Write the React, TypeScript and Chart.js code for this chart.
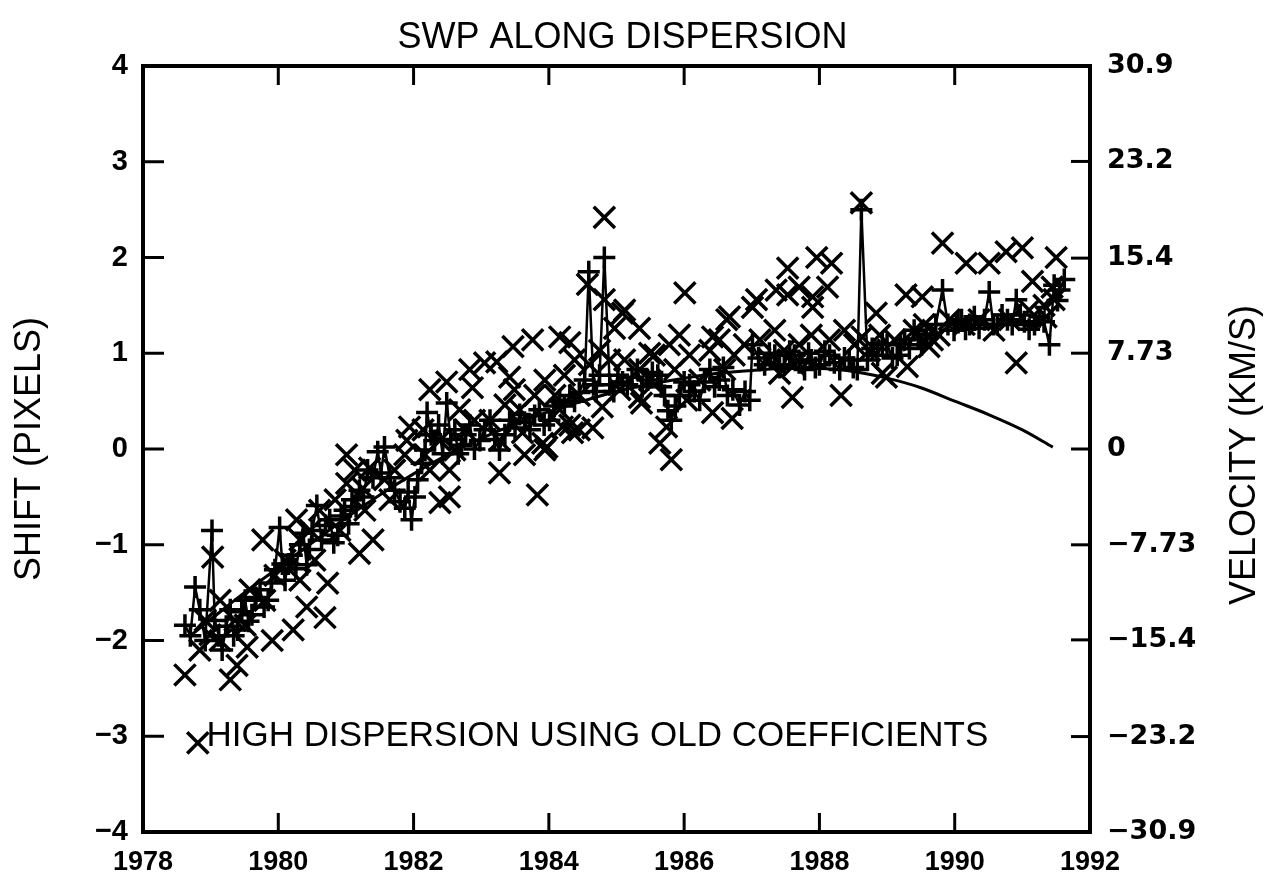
import React, { useEffect, useRef } from "react";
import { Chart, registerables } from "chart.js";

Chart.register(...registerables);

// ---- tick labels ----
const xTickYears = [1978, 1980, 1982, 1984, 1986, 1988, 1990, 1992];
const velocityTicks = [-30.9, -23.2, -15.4, -7.73, 0, 7.73, 15.4, 23.2, 30.9];
const velocityLabels = ["\u221230.9", "\u221223.2", "\u221215.4", "\u22127.73", "0", "7.73", "15.4", "23.2", "30.9"];

const chartTitle = "SWP ALONG DISPERSION";
const leftTitle = "SHIFT (PIXELS)";
const rightTitle = "VELOCITY (KM/S)";
const noteText = "HIGH DISPERSION USING OLD COEFFICIENTS";

// ---- "+" series (connected, chronological) ----
const plusYears = [
  1978.62, 1978.70, 1978.77, 1978.84, 1978.92, 1979.02, 1979.06, 1979.12, 1979.17, 1979.23,
  1979.29, 1979.34, 1979.40, 1979.46, 1979.51, 1979.56, 1979.61, 1979.67, 1979.73, 1979.79,
  1979.85, 1979.90, 1979.95, 1980.02, 1980.06, 1980.10, 1980.15, 1980.20, 1980.26, 1980.32,
  1980.37, 1980.42, 1980.46, 1980.50, 1980.57, 1980.64, 1980.70, 1980.76, 1980.82, 1980.88,
  1980.93, 1980.98, 1981.04, 1981.09, 1981.15, 1981.20, 1981.26, 1981.32, 1981.40, 1981.47,
  1981.52, 1981.57, 1981.65, 1981.72, 1981.80, 1981.87, 1981.92, 1981.97, 1982.02, 1982.06,
  1982.12, 1982.17, 1982.20, 1982.26, 1982.31, 1982.37, 1982.43, 1982.49, 1982.55, 1982.61,
  1982.66, 1982.71, 1982.77, 1982.83, 1982.90, 1982.98, 1983.05, 1983.13, 1983.20, 1983.27,
  1983.35, 1983.42, 1983.50, 1983.57, 1983.64, 1983.72, 1983.79, 1983.86, 1983.93, 1984.01,
  1984.08, 1984.16, 1984.23, 1984.31, 1984.38, 1984.45, 1984.53, 1984.59, 1984.66, 1984.70,
  1984.75, 1984.82, 1984.90, 1984.96, 1985.02, 1985.09, 1985.16, 1985.23, 1985.31, 1985.38,
  1985.46, 1985.53, 1985.61, 1985.66, 1985.71, 1985.76, 1985.81, 1985.87, 1985.93, 1986.00,
  1986.08, 1986.15, 1986.23, 1986.30, 1986.38, 1986.45, 1986.52, 1986.58, 1986.64, 1986.72,
  1986.82, 1986.90, 1986.97, 1987.01, 1987.10, 1987.19, 1987.26, 1987.34, 1987.41, 1987.48,
  1987.56, 1987.63, 1987.70, 1987.78, 1987.84, 1987.88, 1987.94, 1988.00, 1988.08, 1988.15,
  1988.22, 1988.30, 1988.37, 1988.44, 1988.50, 1988.56, 1988.62, 1988.71, 1988.78, 1988.86,
  1988.93, 1989.00, 1989.08, 1989.15, 1989.20, 1989.26, 1989.33, 1989.40, 1989.46, 1989.51,
  1989.58, 1989.65, 1989.72, 1989.82, 1989.90, 1989.99, 1990.05, 1990.10, 1990.16, 1990.22,
  1990.29, 1990.36, 1990.44, 1990.51, 1990.57, 1990.63, 1990.70, 1990.78, 1990.85, 1990.91,
  1990.97, 1991.03, 1991.10, 1991.18, 1991.25, 1991.32, 1991.40, 1991.47, 1991.52, 1991.55,
  1991.62,
];
const plusShift = [
  -1.84, -1.95, -1.44, -1.68, -2.00, -0.85, -1.79, -1.95, -2.10, -1.85,
  -1.68, -1.95, -1.89, -1.70, -1.58, -1.80, -1.73, -1.55, -1.47, -1.65,
  -1.58, -1.40, -1.26, -0.82, -1.20, -1.37, -1.20, -1.11, -1.25, -1.00,
  -0.88, -1.21, -1.05, -0.85, -0.59, -0.95, -0.80, -0.74, -0.98, -0.90,
  -0.70, -0.64, -0.78, -0.53, -0.60, -0.43, -0.50, -0.22, -0.30, -0.03,
  -0.25, 0.02, -0.30, -0.43, -0.55, -0.62, -0.45, -0.74, -0.50, -0.32,
  -0.15, -0.01, 0.38, 0.15, 0.09, 0.25, -0.05, 0.48, 0.10, 0.20,
  -0.05, 0.04, 0.15, 0.25, 0.00, 0.09, 0.20, 0.30, 0.10, -0.01,
  0.15, 0.30, 0.22, 0.36, 0.28, 0.20, 0.35, 0.41, 0.25, 0.30,
  0.45, 0.51, 0.45, 0.56, 0.50, 0.59, 0.72, 1.85, 0.67, 0.60,
  0.77, 2.00, 0.67, 0.60, 0.77, 0.70, 0.67, 0.75, 0.83, 0.65,
  0.72, 0.80, 0.77, 0.65, 0.56, 0.40, 0.30, 0.45, 0.56, 0.70,
  0.67, 0.60, 0.51, 0.70, 0.83, 0.65, 0.72, 0.85, 0.56, 0.62,
  0.46, 0.60, 0.51, 1.09, 0.95, 0.88, 1.00, 0.98, 0.85, 0.88,
  1.02, 0.98, 0.90, 0.83, 1.00, 0.93, 0.85, 0.88, 1.02, 0.98,
  0.90, 0.83, 0.95, 0.93, 0.85, 0.83, 2.50, 0.93, 1.05, 0.98,
  1.10, 1.09, 0.95, 0.98, 1.10, 1.14, 1.05, 1.24, 1.15, 1.09,
  1.20, 1.19, 1.30, 1.66, 1.30, 1.24, 1.32, 1.35, 1.25, 1.30,
  1.38, 1.26, 1.35, 1.64, 1.30, 1.30, 1.40, 1.35, 1.30, 1.56,
  1.40, 1.33, 1.25, 1.30, 1.38, 1.33, 1.09, 1.71, 1.55, 1.66,
  1.77,
];

// ---- "x" series (scatter) ----
const crossYears = [
  1978.62, 1979.29, 1978.81, 1979.03, 1979.77, 1980.27, 1981.01, 1981.40, 1981.20, 1980.73,
  1980.69, 1980.42, 1980.22, 1979.91, 1979.54, 1981.01, 1979.39, 1978.84, 1978.99, 1982.24,
  1982.49, 1982.87, 1983.23, 1983.47, 1983.76, 1984.16, 1984.31, 1981.94, 1981.90, 1981.25,
  1982.53, 1982.39, 1983.27, 1983.83, 1984.65, 1983.91, 1984.35, 1984.20, 1984.45, 1982.83,
  1983.05, 1983.42, 1982.14, 1983.61, 1983.94, 1984.82, 1986.01, 1984.57, 1984.82, 1985.12,
  1985.34, 1984.97, 1986.63, 1985.93, 1987.01, 1987.36, 1987.53, 1987.53, 1986.42, 1985.49,
  1985.34, 1984.31, 1983.97, 1985.74, 1985.64, 1985.81, 1986.42, 1986.71, 1987.60, 1984.79,
  1988.62, 1987.96, 1988.18, 1987.70, 1988.12, 1987.90, 1988.32, 1989.82, 1990.17, 1990.51,
  1990.76, 1991.00, 1991.50, 1991.15, 1990.91, 1988.84, 1989.28, 1989.52, 1988.93, 1989.30,
  1991.44, 1991.35, 1989.67, 1988.63, 1987.07, 1986.67, 1985.09, 1989.62, 1987.41, 1986.04,
  1985.37, 1988.99, 1987.90, 1979.14, 1979.36, 1979.58, 1979.80, 1979.95, 1980.10, 1979.14,
  1979.51, 1978.92, 1980.32, 1980.47, 1980.61, 1980.84, 1980.32, 1980.54, 1980.91, 1981.13,
  1981.35, 1981.57, 1981.72, 1981.87, 1981.28, 1981.65, 1982.17, 1982.39, 1982.61, 1982.76,
  1982.90, 1982.53, 1982.24, 1982.68, 1983.13, 1983.35, 1983.57, 1983.79, 1983.94, 1983.27,
  1983.64, 1983.49, 1984.09, 1984.23, 1984.38, 1984.60, 1984.75, 1984.90, 1984.45, 1984.16,
  1985.12, 1985.34, 1985.56, 1985.78, 1985.49, 1985.86, 1985.05, 1986.08, 1986.23, 1986.38,
  1986.52, 1986.74, 1986.89, 1986.60, 1987.12, 1987.34, 1987.48, 1987.70, 1987.88, 1987.26,
  1987.63, 1988.15, 1988.37, 1988.52, 1988.74, 1988.89, 1989.11, 1989.40, 1989.55, 1989.77,
  1989.92, 1990.14, 1990.36, 1990.58, 1990.81, 1991.10, 1991.32, 1991.47,
];
const crossShift = [
  -2.36, -2.41, -3.07, -1.13, -0.95, -0.74, -0.06, -0.95, -1.09, -1.40,
  -1.76, -1.65, -1.89, -2.00, -2.07, -0.36, -2.26, -2.10, -1.94, 0.62,
  0.70, 0.64, 0.91, 1.07, 1.14, 1.17, 1.11, 0.23, 0.09, -0.41,
  -0.50, -0.56, -0.25, -0.48, 0.22, 0.06, 0.17, 0.23, 0.20, 0.83,
  0.90, 0.75, 0.20, 0.17, -0.01, 2.42, 1.63, 1.72, 1.56, 1.45,
  1.26, 1.26, 1.35, 1.19, 1.48, 1.66, 1.89, 1.61, 1.17, 1.00,
  0.54, 0.25, 0.02, 0.23, 0.06, -0.11, 0.38, 0.32, 0.54, 0.44,
  2.57, 2.00, 1.94, 1.69, 1.69, 1.59, 0.56, 2.15, 1.94, 1.94,
  2.06, 2.10, 2.00, 1.75, 0.90, 1.42, 1.61, 1.59, 0.79, 0.86,
  1.69, 1.38, 1.14, 1.17, 1.56, 1.38, 1.42, 1.07, 0.79, 0.51,
  0.48, 0.75, 1.48, -1.58, -1.79, -1.47, -1.58, -1.32, -1.16, -2.00,
  -1.84, -1.79, -0.95, -0.85, -0.64, -0.53, -1.37, -1.16, -0.85, -0.22,
  -0.20, -0.32, -0.22, -0.06, -0.64, -0.53, -0.06, 0.09, -0.01, 0.20,
  0.30, -0.22, -0.22, 0.41, 0.30, 0.46, 0.41, 0.56, 0.72, 0.09,
  -0.06, 0.62, 0.56, 0.77, 0.93, 0.88, 1.03, 0.93, 0.56, 0.41,
  0.93, 0.83, 0.98, 1.09, 0.72, 0.83, 0.62, 0.98, 0.72, 1.03,
  1.14, 0.98, 1.09, 0.83, 1.14, 1.24, 1.03, 1.09, 1.19, 0.93,
  0.88, 1.14, 1.24, 1.09, 1.03, 1.19, 1.14, 1.24, 1.30, 1.19,
  1.35, 1.30, 1.35, 1.24, 1.35, 1.45, 1.50, 1.56,
];

// ---- fitted curve (old coefficients) ----
const fitYears = [
  1978.7, 1979.0, 1979.5, 1980.0, 1980.5, 1981.0, 1981.5, 1982.0, 1982.5, 1983.0,
  1983.5, 1984.0, 1984.5, 1985.0, 1985.5, 1986.0, 1986.5, 1987.0, 1987.5, 1988.0,
  1988.5, 1989.0, 1989.5, 1990.0, 1990.5, 1991.0, 1991.45,
];
const fitShift = [
  -1.95, -1.78, -1.50, -1.24, -0.98, -0.72, -0.48, -0.26, -0.06, 0.11,
  0.26, 0.39, 0.50, 0.60, 0.68, 0.74, 0.79, 0.82, 0.84, 0.84,
  0.81, 0.74, 0.64, 0.50, 0.36, 0.20, 0.02,
];

const INK = "#000";
const SANS = "'Liberation Sans', Arial, sans-serif";

const framePlugin = {
  id: "frame",
  afterDatasetsDraw(chart: any) {
    const { ctx, chartArea: a, scales } = chart;
    ctx.save();
    ctx.strokeStyle = INK;
    ctx.fillStyle = INK;
    ctx.lineCap = "square";
    ctx.lineWidth = 4;
    ctx.strokeRect(a.left, a.top, a.right - a.left, a.bottom - a.top);
    ctx.lineWidth = 3;
    ctx.lineCap = "butt";
    const T = 19;
    const seg = (x1: number, y1: number, x2: number, y2: number) => {
      ctx.beginPath();
      ctx.moveTo(x1, y1);
      ctx.lineTo(x2, y2);
      ctx.stroke();
    };
    const sx = scales.x;
    sx.ticks.forEach((t: any) => {
      if (t.value <= sx.min || t.value >= sx.max) return;
      const p = sx.getPixelForValue(t.value);
      seg(p, a.bottom, p, a.bottom - T);
      seg(p, a.top, p, a.top + T);
    });
    const sy = scales.y;
    sy.ticks.forEach((t: any) => {
      if (t.value <= sy.min || t.value >= sy.max) return;
      const p = sy.getPixelForValue(t.value);
      seg(a.left, p, a.left + T + 2, p);
    });
    const sy2 = scales.y2;
    sy2.ticks.forEach((t: any) => {
      if (t.value <= sy2.min || t.value >= sy2.max) return;
      const p = sy2.getPixelForValue(t.value);
      seg(a.right, p, a.right - T, p);
    });

    // chart title
    ctx.font = `normal 36px ${SANS}`;
    ctx.textAlign = "center";
    ctx.textBaseline = "middle";
    ctx.fillText(chartTitle, (a.left + a.right) / 2 + 6, 38);

    // right axis title (reads bottom to top)
    ctx.save();
    ctx.translate(1245, (a.top + a.bottom) / 2 + 6);
    ctx.rotate(-Math.PI / 2);
    ctx.fillText(rightTitle, 0, 0);
    ctx.restore();

    // annotation
    ctx.font = `normal 35px ${SANS}`;
    ctx.textAlign = "left";
    ctx.fillText(noteText, sx.getPixelForValue(1978.94), sy.getPixelForValue(-3.0));
    ctx.restore();
  },
};

export default function App() {
  const ref = useRef<HTMLCanvasElement | null>(null);

  useEffect(() => {
    if (!ref.current) return;
    const fitData = fitYears.map((x, i) => ({ x, y: fitShift[i] }));
    const plusData = plusYears.map((x, i) => ({ x, y: plusShift[i] }));
    const crossData = crossYears.map((x, i) => ({ x, y: crossShift[i] }));

    const chart = new Chart(ref.current, {
      type: "scatter",
      data: {
        datasets: [
          {
            label: "fit",
            data: fitData,
            showLine: true,
            borderColor: INK,
            borderWidth: 3,
            pointRadius: 0,
            tension: 0.4,
            cubicInterpolationMode: "monotone",
            yAxisID: "y",
          } as any,
          {
            label: "plus",
            data: plusData,
            showLine: true,
            borderColor: INK,
            backgroundColor: INK,
            borderWidth: 2.5,
            pointStyle: "cross",
            pointRadius: 11,
            pointBorderWidth: 3.5,
            pointBorderColor: INK,
            tension: 0,
            yAxisID: "y",
          } as any,
          {
            label: "cross",
            data: crossData,
            showLine: false,
            borderColor: INK,
            backgroundColor: INK,
            pointStyle: "crossRot",
            pointRadius: 15,
            pointBorderWidth: 3.5,
            pointBorderColor: INK,
            yAxisID: "y",
          } as any,
        ],
      },
      options: {
        animation: false,
        responsive: false,
        events: [],
        layout: { padding: { top: 66, left: 0, right: 0, bottom: 0 } },
        plugins: {
          legend: { display: false },
          tooltip: { enabled: false },
          title: { display: false },
        },
        scales: {
          x: {
            type: "linear",
            position: "bottom",
            min: 1978,
            max: 1992,
            grid: { display: false, drawTicks: false },
            border: { display: false },
            afterBuildTicks: (s: any) => {
              s.ticks = xTickYears.map((v) => ({ value: v }));
            },
            afterFit: (s: any) => {
              s.height = 47;
            },
            ticks: {
              autoSkip: false,
              maxRotation: 0,
              padding: 14,
              color: INK,
              font: { family: SANS, size: 27, weight: "bold" },
              callback: (v: any) => String(v),
            },
          },
          y: {
            type: "linear",
            position: "left",
            min: -4,
            max: 4,
            grid: { display: false, drawTicks: false },
            border: { display: false },
            afterFit: (s: any) => {
              s.width = 143;
            },
            title: {
              display: true,
              text: leftTitle,
              color: INK,
              font: { family: SANS, size: 36, weight: "normal" },
              padding: { top: 8, bottom: 0 },
            },
            ticks: {
              stepSize: 1,
              padding: 15,
              color: INK,
              font: { family: SANS, size: 29, weight: "bold" },
              callback: (v: any) => (v < 0 ? "\u2212" + Math.abs(v) : String(v)),
            },
          },
          y2: {
            type: "linear",
            position: "right",
            min: -30.9,
            max: 30.9,
            grid: { display: false, drawTicks: false },
            border: { display: false },
            afterBuildTicks: (s: any) => {
              s.ticks = velocityTicks.map((v) => ({ value: v }));
            },
            afterFit: (s: any) => {
              s.width = 177;
            },
            ticks: {
              autoSkip: false,
              padding: 17,
              color: INK,
              font: { family: "'DejaVu Sans', sans-serif", size: 27, weight: "bold" },
              callback: (_v: any, i: number) => velocityLabels[i],
            },
          },
        },
      },
      plugins: [framePlugin],
    });
    return () => chart.destroy();
  }, []);

  return (
    <div style={{ position: "absolute", left: 0, top: 0, width: 1267, height: 879, background: "#fff" }}>
      <canvas ref={ref} width={1267} height={879} style={{ display: "block" }} />
    </div>
  );
}
